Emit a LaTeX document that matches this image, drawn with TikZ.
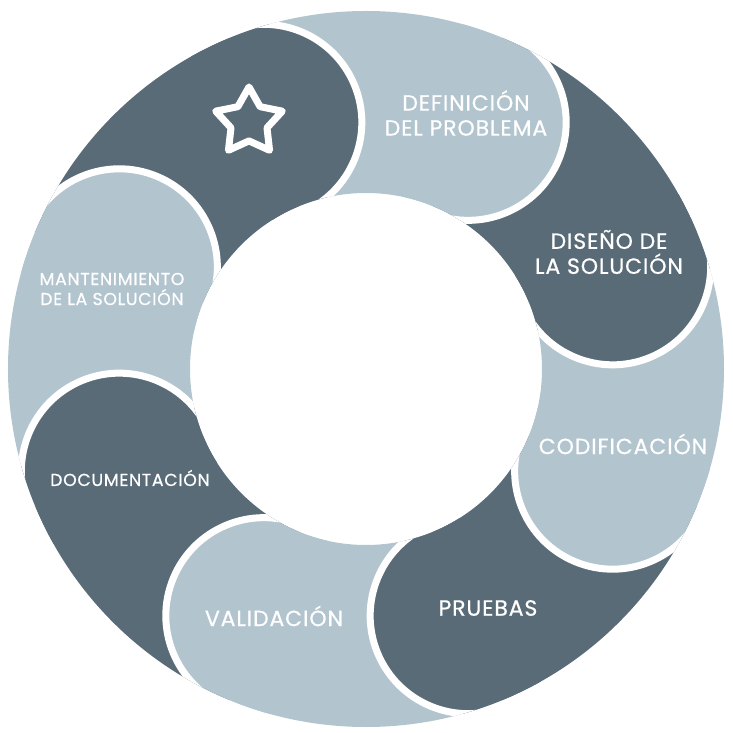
\documentclass[tikz,border=0pt]{standalone}
\usepackage{fontspec}
\setmainfont{Poppins}[LetterSpace=4, FakeBold=0.6]
\usetikzlibrary{shapes.geometric}
\definecolor{slate}{HTML}{5A6B78}
\definecolor{mist}{HTML}{B2C5CF}
\tikzset{
  phase/.style={text=white, align=center, inner sep=0pt, font=\fontsize{22}{25}\selectfont},
  phasesmall/.style={text=white, align=center, inner sep=0pt, font=\fontsize{17.3}{20}\selectfont},
  cut/.style={white, line width=7pt},
}
\begin{document}
\begin{tikzpicture}[x=1pt,y=1pt]
\useasboundingbox (-366,-364) rectangle (367,369);
\def\Ro{358} \def\Ri{176} \def\Rm{267} \def\Rc{98}
\begin{scope}[even odd rule]
  \clip (0,0) circle (\Ro) (0,0) circle (\Ri);
  % ring pieces
  \foreach \a/\c in {112.5/slate, 67.5/mist, 22.5/slate, -22.5/mist,
                     -67.5/slate, -112.5/mist, -157.5/slate, 157.5/mist}
    \fill[\c] (0,0) -- (\a:400) arc[start angle=\a, end angle=\a+45, radius=400] -- cycle;
  % round heads
  \foreach \a/\c in {112.5/slate, 67.5/mist, 22.5/slate, -22.5/mist,
                     -67.5/slate, -112.5/mist, -157.5/slate, 157.5/mist}{
    \fill[\c] (\a:\Rm) circle (\Rc);
    \draw[cut] ([shift={(\a:\Rm)}]\a:\Rc) arc[start angle=\a, end angle=\a-180, radius=\Rc];
  }
\end{scope}
\node[star, star points=5, star point ratio=1.85, minimum size=70pt, inner sep=0pt,
      draw=white, line width=7pt, line join=round] (favstar) at (-117,247) {};
\node[phase] (definicion) at (100,256) {DEFINICIÓN\\DEL PROBLEMA};
\node[phase] (diseno) at (243,117) {DISEÑO DE\\LA SOLUCIÓN};
\node[phase] (codificacion) at (257,-75) {CODIFICACIÓN};
\node[phase] (pruebas) at (122,-239) {PRUEBAS};
\node[phase] (validacion) at (-92,-247) {VALIDACIÓN};
\node[phasesmall] (documentacion) at (-236,-109) {DOCUMENTACIÓN};
\node[phasesmall] (mantenimiento) at (-254,80) {MANTENIMIENTO\\DE LA SOLUCIÓN};
\end{tikzpicture}
\end{document}
